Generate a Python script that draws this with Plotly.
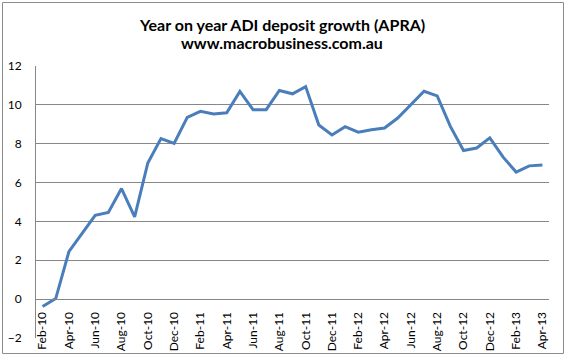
import plotly.graph_objects as go

months = [
    "Feb-10", "Mar-10", "Apr-10", "May-10", "Jun-10", "Jul-10", "Aug-10", "Sep-10", "Oct-10", "Nov-10", "Dec-10",
    "Jan-11", "Feb-11", "Mar-11", "Apr-11", "May-11", "Jun-11", "Jul-11", "Aug-11", "Sep-11", "Oct-11", "Nov-11", "Dec-11",
    "Jan-12", "Feb-12", "Mar-12", "Apr-12", "May-12", "Jun-12", "Jul-12", "Aug-12", "Sep-12", "Oct-12", "Nov-12", "Dec-12",
    "Jan-13", "Feb-13", "Mar-13", "Apr-13",
]
growth = [
    -0.38, 0.03, 2.44, 3.36, 4.31, 4.46, 5.69, 4.24, 7.01, 8.26, 8.02,
    9.36, 9.67, 9.53, 9.59, 10.69, 9.75, 9.75, 10.74, 10.57, 10.94, 8.96, 8.45,
    8.88, 8.59, 8.72, 8.81, 9.32, 10.0, 10.70, 10.46, 8.89, 7.65, 7.78, 8.30,
    7.32, 6.54, 6.86, 6.91,
]
tick_labels = months[::2]
y_ticks = [-2, 0, 2, 4, 6, 8, 10, 12]

title_line1 = "Year on year ADI deposit growth (APRA)"
title_line2 = "www.macrobusiness.com.au"

FONT = "Lato"
GRID = "#878787"

fig = go.Figure()
fig.add_trace(go.Scatter(
    x=months, y=growth, mode="lines",
    line=dict(color="#4A7EBB", width=3),
    hoverinfo="x+y", showlegend=False,
))

L, R, T, B = 36, 17, 66, 18
W, H = 566, 356
pw, ph = W - L - R, H - T - B


def py(pix):
    """paper y fraction for a pixel row measured from the top of the page"""
    return (T + ph - pix) / ph


def px(pix):
    return (pix - L) / pw


fig.update_layout(
    width=W, height=H,
    margin=dict(l=L, r=R, t=T, b=B, pad=0, autoexpand=False),
    paper_bgcolor="white", plot_bgcolor="white",
    font=dict(family=FONT, size=12, color="#000000"),
    xaxis=dict(
        type="category",
        range=[-0.5, len(months) - 0.5],
        tickmode="array", tickvals=tick_labels, ticktext=tick_labels,
        tickangle=-90,
        anchor="free", position=2 / 14,
        showline=True, linecolor=GRID, linewidth=1,
        showgrid=False, ticks="", ticklabelstandoff=7,
        automargin=False,
        tickfont=dict(family=FONT, size=12, color="#000000"),
    ),
    yaxis=dict(
        range=[-2, 12], tickvals=y_ticks,
        showgrid=True, gridcolor=GRID, gridwidth=1,
        zeroline=False,
        showline=True, linecolor=GRID, linewidth=1,
        ticks="", ticklabelstandoff=11,
        automargin=False,
        tickfont=dict(family=FONT, size=12, color="#000000"),
    ),
)

# two-line bold title as annotations
fig.add_annotation(
    text="<b>" + title_line1 + "</b>", xref="paper", yref="paper",
    x=px(282), y=py(13), xanchor="center", yanchor="top", showarrow=False,
    font=dict(family=FONT, size=16, color="#000000"),
)
fig.add_annotation(
    text="<b>" + title_line2 + "</b>", xref="paper", yref="paper",
    x=px(282), y=py(31), xanchor="center", yanchor="top", showarrow=False,
    font=dict(family=FONT, size=16, color="#000000"),
)

# outer chart border (Excel chart area frame)
fig.add_shape(
    type="rect", xref="paper", yref="paper",
    x0=px(2.5), x1=px(563.5), y0=py(353.5), y1=py(2.5),
    line=dict(color="#8C8C8C", width=1), fillcolor="rgba(0,0,0,0)", layer="above",
)

fig.write_html(
    "out.html",
    config={"displayModeBar": False},
    post_script="document.body.style.margin='0';document.body.style.overflow='hidden';",
)
